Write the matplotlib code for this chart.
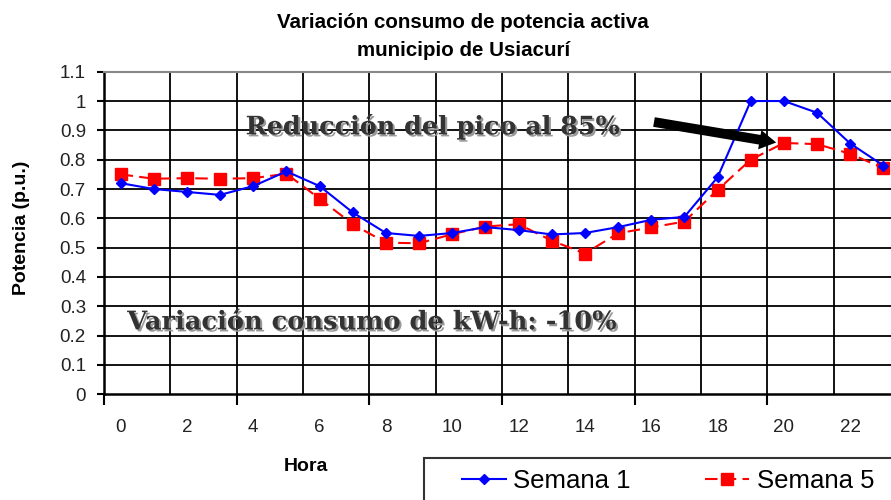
import matplotlib
matplotlib.use("Agg")
import matplotlib.pyplot as plt
import matplotlib.patheffects as pe
from matplotlib.patches import Rectangle
from matplotlib.ticker import FuncFormatter
import numpy as np

horas = list(range(24))
semana1 = [0.72, 0.70, 0.69, 0.68, 0.71, 0.76, 0.71, 0.62, 0.55, 0.54, 0.55, 0.57,
           0.56, 0.545, 0.55, 0.57, 0.595, 0.605, 0.74, 1.0, 1.0, 0.96, 0.855, 0.78]
semana5 = [0.75, 0.735, 0.737, 0.735, 0.737, 0.752, 0.667, 0.58, 0.517, 0.515, 0.546, 0.572,
           0.58, 0.524, 0.48, 0.549, 0.569, 0.589, 0.697, 0.80, 0.857, 0.853, 0.82, 0.771]
xticks_lbl = list(range(0, 24, 2))
yticks = [round(0.1 * i, 1) for i in range(12)]

plt.rcParams['font.family'] = ['Liberation Sans', 'DejaVu Sans']

fig = plt.figure(figsize=(8.91, 5.0), dpi=100)
ax = fig.add_axes([104 / 891, 1 - 394.3 / 500, 796 / 891, (394.3 - 71.7) / 500])

# rejilla
for y in yticks[1:-1]:
    ax.axhline(y, color='black', lw=1.3, zorder=1)
for x in np.arange(1.5, 23, 2):
    ax.axvline(x, color='black', lw=1.3, zorder=1)

ax.plot(horas, semana1, color='#0000FF', lw=1.5, marker='D', ms=5,
        label='Semana 1', zorder=3)
ax.plot(horas, semana5, color='#FF0000', lw=1.5, ls=(0, (6, 3)), marker='s', ms=8,
        label='Semana 5', zorder=2)

ax.set_xlim(-0.5, 23.5)
ax.set_ylim(0, 1.1)
ax.set_yticks(yticks)
ax.yaxis.set_major_formatter(FuncFormatter(lambda v, p: '%g' % round(v, 1)))
ax.set_xticks(xticks_lbl)
ax.set_xticks(np.arange(-0.5, 23.6, 4), minor=True)
ax.tick_params(axis='x', which='major', length=0, pad=18, labelsize=13.5)
ax.tick_params(axis='x', which='minor', length=8, width=1.5, direction='out')
ax.tick_params(axis='y', length=5, width=1.5, direction='out', pad=8, labelsize=13.5)
for lbl in ax.get_yticklabels() + ax.get_xticklabels():
    lbl.set_color('#222222')

for s in ['left', 'bottom']:
    ax.spines[s].set_linewidth(1.8)
ax.spines['top'].set_color('#888888')
ax.spines['top'].set_linewidth(1.5)
ax.spines['right'].set_visible(False)

ax.set_ylabel('Potencia (p.u.)', fontsize=14, fontweight='bold')
ax.yaxis.set_label_coords(-0.0925, 0.515)
ax.set_xlabel('Hora', fontsize=14, fontweight='bold')
ax.xaxis.set_label_coords(0.254, -0.198)

fig.text(0.52, 0.956, 'Variación consumo de potencia activa', ha='center', va='center',
         fontsize=14.8, fontweight='bold')
fig.text(0.52, 0.90, 'municipio de Usiacurí', ha='center', va='center',
         fontsize=14.8, fontweight='bold')

shadow = [pe.withSimplePatchShadow(offset=(1.5, -1.5), shadow_rgbFace='#999999', alpha=1)]
ax.text(3.77, 0.912, 'Reducción del pico al 85%', family='DejaVu Serif', fontweight='bold',
        fontsize=18.3, color='#333333', va='center', ha='left', path_effects=shadow, zorder=4)
ax.text(0.2, 0.247, 'Variación consumo de kW-h: -10%', family='DejaVu Serif', fontweight='bold',
        fontsize=18.5, color='#333333', va='center', ha='left', path_effects=shadow, zorder=4)

ax.annotate('', xy=(19.85, 0.857), xytext=(16.0, 0.93),
            arrowprops=dict(arrowstyle='simple,head_length=1.2,head_width=1.4,tail_width=0.7',
                            color='black', lw=0), zorder=5)

# marco de la leyenda
fig.patches.append(Rectangle((424 / 891, -0.1), 0.6, 0.1 + (500 - 458) / 500,
                             transform=fig.transFigure, fill=False,
                             edgecolor='#333333', lw=1.5))
leg = fig.legend(loc='center left', bbox_to_anchor=(462 / 891, 1 - 481 / 500), ncol=2,
                 fontsize=18.5, frameon=False, handlelength=1.7, handletextpad=0.3,
                 columnspacing=2.9, borderpad=0, borderaxespad=0)

fig.savefig('out.png', dpi=100)
